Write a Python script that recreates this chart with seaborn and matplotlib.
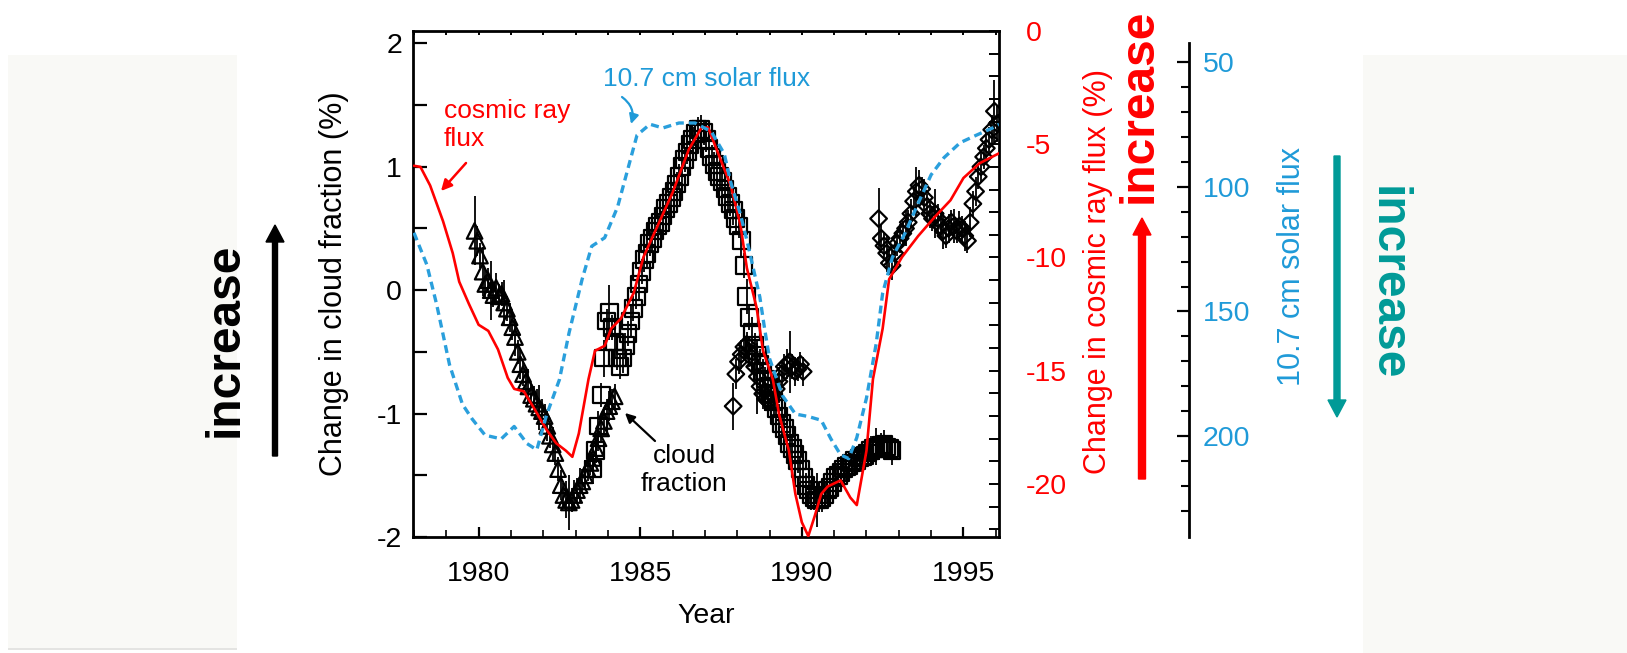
import numpy as np
import matplotlib
matplotlib.use("Agg")
import matplotlib.pyplot as plt
import seaborn as sns
from matplotlib.patches import Rectangle, FancyArrow
from matplotlib.transforms import IdentityTransform
from matplotlib.ticker import MultipleLocator, FixedLocator, StrMethodFormatter

sns.set_theme(style="white")
plt.rcParams["font.family"] = ["Liberation Sans", "DejaVu Sans"]
plt.rcParams["axes.unicode_minus"] = False

# ---------------- data ----------------
# Cosmic ray flux, change in %
cr_year = [1978.0, 1978.2, 1978.5, 1978.9, 1979.2, 1979.4, 1979.7, 1980.0, 1980.3, 1980.6,
           1980.9, 1981.1, 1981.4, 1981.7, 1982.1, 1982.4, 1982.7, 1982.9, 1983.1, 1983.4,
           1983.6, 1983.9, 1984.1, 1984.4, 1984.8, 1985.1, 1985.5, 1986.0, 1986.5, 1986.9,
           1987.1, 1987.5, 1987.8, 1988.1, 1988.3, 1988.6, 1988.8, 1989.1, 1989.3, 1989.6,
           1989.8, 1990.0, 1990.2, 1990.4, 1990.6, 1990.8, 1991.2, 1991.5, 1991.7, 1992.0,
           1992.2, 1992.5, 1992.7, 1993.1, 1993.6, 1994.1, 1994.6, 1995.0, 1995.5, 1996.1]
cr_change = [-5.95, -6.00, -6.82, -8.40, -9.81, -11.07, -12.05, -12.97, -13.24, -14.06,
             -15.31, -15.80, -15.91, -16.62, -17.60, -18.20, -18.53, -18.80, -17.77, -15.37,
             -14.12, -13.90, -13.14, -12.70, -11.56, -9.98, -8.72, -7.14, -5.24, -4.26,
             -4.26, -5.73, -6.82, -8.56, -10.47, -12.21, -14.12, -15.37, -16.95, -18.53,
             -20.44, -21.69, -22.30, -21.41, -20.44, -20.11, -19.84, -20.60, -20.93, -18.53,
             -15.37, -13.14, -10.96, -9.98, -9.05, -8.23, -7.47, -6.49, -5.84, -5.40]

# 10.7 cm solar radio flux
sf_year = [1978.0, 1978.4, 1978.7, 1979.1, 1979.5, 1979.8, 1980.2, 1980.7, 1981.1, 1981.5,
           1981.8, 1982.1, 1982.5, 1982.8, 1983.2, 1983.5, 1983.9, 1984.3, 1984.6, 1984.9,
           1985.3, 1985.7, 1986.2, 1986.7, 1987.2, 1987.6, 1987.8, 1988.1, 1988.3, 1988.5,
           1988.7, 1988.85, 1989.0, 1989.4, 1989.8, 1990.2, 1990.6, 1990.9, 1991.2, 1991.45,
           1991.7, 1992.0, 1992.3, 1992.5, 1992.8, 1993.2, 1993.6, 1994.0, 1994.4, 1994.9,
           1995.4, 1995.9, 1996.1]
sf_flux = [118.4, 131.3, 147.1, 171.4, 187.3, 193.2, 199.7, 201.2, 196.2, 203.1,
           205.6, 191.7, 177.4, 158.5, 137.2, 123.8, 120.4, 108.0, 93.6, 79.2,
           74.8, 76.3, 74.3, 74.3, 77.8, 86.7, 98.1, 111.0, 121.4, 132.8,
           144.2, 157.1, 168.9, 183.8, 191.2, 192.2, 193.7, 201.2, 207.6, 209.1,
           200.7, 184.8, 163.0, 142.7, 128.3, 118.4, 106.5, 95.1, 88.2, 82.2,
           79.2, 76.3, 74.8]

# Monthly cloud fraction change (%), three satellite records.
# Record 1 (triangles) starts Nov 1979
tri_start = 1979 + 10 / 12
tri_cloud = [0.48, 0.40,
             0.28, 0.15, 0.05, 0.08, 0.00, -0.04, 0.02, -0.05, -0.03, -0.10, -0.15, -0.22,
             -0.30, -0.38, -0.50, -0.60, -0.68, -0.74, -0.78, -0.85, -0.88, -0.92, -0.95, -0.98,
             -1.02, -1.10, -1.18, -1.25, -1.32, -1.45, -1.58, -1.66, -1.70, -1.72, -1.70, -1.66,
             -1.62, -1.58, -1.55, -1.50, -1.45, -1.40, -1.36, -1.28, -1.20, -1.12, -1.06, -0.98,
             -0.94, -0.90, -0.86]
tri_err = [0.28, 0.12,
           0.10, 0.20, 0.12, 0.10, 0.24, 0.10, 0.12, 0.10, 0.10, 0.18, 0.10, 0.12,
           0.10, 0.15, 0.10, 0.12, 0.10, 0.10, 0.14, 0.10, 0.10, 0.12, 0.18, 0.10,
           0.10, 0.12, 0.10, 0.14, 0.10, 0.10, 0.12, 0.10, 0.15, 0.22, 0.10, 0.12,
           0.10, 0.14, 0.10, 0.12, 0.10, 0.10, 0.12, 0.10, 0.10, 0.12, 0.10, 0.10,
           0.12, 0.10, 0.10]

# Record 2 (squares) starts Jul 1983
sq_start = 1983 + 6 / 12
sq_cloud = [-1.45, -1.30, -1.10, -0.85, -0.55, -0.25,
            -0.18, -0.30, -0.42, -0.55, -0.62, -0.55, -0.45, -0.35, -0.25, -0.15, -0.05, 0.05,
            0.15, 0.25, 0.30, 0.38, 0.42, 0.48, 0.52, 0.55, 0.60, 0.66, 0.70, 0.75,
            0.80, 0.86, 0.92, 1.00, 1.06, 1.12, 1.18, 1.22, 1.27, 1.30, 1.30, 1.28,
            1.22, 1.15, 1.08, 1.02, 0.96, 0.92, 0.88, 0.82, 0.76, 0.70, 0.65, 0.58,
            0.52, 0.40, 0.20, -0.05, -0.22, -0.34, -0.45, -0.53, -0.60, -0.66, -0.72, -0.78,
            -0.84, -0.90, -0.96, -1.02, -1.08, -1.12, -1.18, -1.24, -1.28, -1.33, -1.38, -1.45,
            -1.52, -1.58, -1.62, -1.66, -1.68, -1.70, -1.70, -1.68, -1.66, -1.62, -1.60, -1.56,
            -1.52, -1.50, -1.48, -1.45, -1.43, -1.42, -1.40, -1.38, -1.38, -1.36, -1.35, -1.34,
            -1.32, -1.30, -1.28, -1.27, -1.28, -1.26, -1.25, -1.27, -1.28, -1.30]
sq_err = [0.12, 0.10, 0.12, 0.10, 0.15, 0.10,
          0.22, 0.10, 0.12, 0.10, 0.10, 0.12, 0.10, 0.10, 0.12, 0.10, 0.10, 0.12,
          0.10, 0.10, 0.12, 0.10, 0.10, 0.12, 0.10, 0.10, 0.10, 0.12, 0.10, 0.10,
          0.12, 0.10, 0.10, 0.12, 0.10, 0.10, 0.12, 0.10, 0.10, 0.10, 0.12, 0.10,
          0.10, 0.12, 0.10, 0.10, 0.12, 0.10, 0.10, 0.12, 0.10, 0.10, 0.12, 0.10,
          0.10, 0.12, 0.10, 0.14, 0.10, 0.12, 0.10, 0.10, 0.12, 0.10, 0.10, 0.12,
          0.10, 0.12, 0.10, 0.10, 0.12, 0.10, 0.10, 0.14, 0.10, 0.12, 0.10, 0.10,
          0.12, 0.10, 0.10, 0.12, 0.10, 0.22, 0.10, 0.12, 0.10, 0.10, 0.12, 0.10,
          0.10, 0.12, 0.10, 0.10, 0.12, 0.10, 0.10, 0.12, 0.10, 0.10, 0.12, 0.10,
          0.10, 0.12, 0.10, 0.15, 0.10, 0.10, 0.12, 0.10, 0.10, 0.12]

# Record 3 (diamonds), first part starts Nov 1987
dm1_start = 1987 + 10 / 12
dm1_cloud = [-0.94, -0.68,
             -0.58, -0.52, -0.46, -0.44, -0.50, -0.55, -0.62, -0.70, -0.78, -0.84, -0.88, -0.90,
             -0.88, -0.85, -0.80, -0.74, -0.68, -0.62, -0.60, -0.58, -0.62, -0.66, -0.64, -0.60,
             -0.66]
dm1_err = [0.19, 0.12,
           0.10, 0.12, 0.10, 0.10, 0.12, 0.10, 0.10, 0.30, 0.10, 0.12, 0.10, 0.10,
           0.12, 0.10, 0.10, 0.12, 0.10, 0.10, 0.12, 0.25, 0.10, 0.12, 0.10, 0.10,
           0.12]

# Record 3 (diamonds), second part starts May 1992
dm2_start = 1992 + 4 / 12
dm2_cloud = [0.58, 0.42, 0.36, 0.30, 0.22, 0.20, 0.30, 0.38,
             0.42, 0.46, 0.50, 0.55, 0.62, 0.72, 0.80, 0.85, 0.82, 0.75, 0.68, 0.62,
             0.58, 0.62, 0.58, 0.52, 0.48, 0.44, 0.50, 0.55, 0.52, 0.48, 0.52, 0.50,
             0.44, 0.40, 0.55, 0.70, 0.80, 0.92, 1.00, 1.08, 1.15, 1.22, 1.30, 1.45,
             1.35]
dm2_err = [0.25, 0.12, 0.10, 0.15, 0.10, 0.12, 0.10, 0.10,
           0.12, 0.10, 0.14, 0.10, 0.12, 0.10, 0.20, 0.12, 0.10, 0.15, 0.10, 0.12,
           0.10, 0.20, 0.12, 0.10, 0.15, 0.10, 0.12, 0.10, 0.14, 0.10, 0.12, 0.10,
           0.12, 0.10, 0.12, 0.10, 0.12, 0.10, 0.12, 0.10, 0.12, 0.10, 0.12, 0.25,
           0.15]

# ---------------- styling ----------------
RED = "#ff0000"
BLUE = "#1f9ad8"
TEAL = "#009a97"
PANEL = "#f9f9f6"

W, H = 1627, 653
fig = plt.figure(figsize=(W / 100, H / 100), dpi=100, facecolor="white")


def fig_frac(x, y):
    """Top-left pixel position -> figure fraction."""
    return x / W, 1 - y / H


def fig_px(x, y):
    """Top-left pixel position -> figure pixels (origin bottom-left)."""
    return x, H - y


# pale side panels
for (x0, y0, x1, y1) in [(8, 55, 237, 650), (1363, 55, 1627, 653)]:
    fig.add_artist(Rectangle((x0, H - y1), x1 - x0, y1 - y0, transform=IdentityTransform(),
                             facecolor=PANEL, edgecolor="none", zorder=-1))
fig.add_artist(Rectangle((8, H - 650), 229, 2, transform=IdentityTransform(),
                         facecolor="#e4e4e2", edgecolor="none", zorder=-1))

# main axes (cloud fraction)
L, T, R, B = 413, 31, 999, 537
ax = fig.add_axes([L / W, 1 - B / H, (R - L) / W, (B - T) / H])
ax.set_facecolor("white")
ax.set_xlim(1977.97, 1996.1)
ax.set_ylim(-2, 2.1)


def monthly(start, n):
    return start + (np.arange(n) + 0.5) / 12


series = [
    (monthly(tri_start, len(tri_cloud)), tri_cloud, tri_err, "^", 125),
    (monthly(sq_start, len(sq_cloud)), sq_cloud, sq_err, "s", 145),
    (monthly(dm1_start, len(dm1_cloud)), dm1_cloud, dm1_err, "D", 72),
    (monthly(dm2_start, len(dm2_cloud)), dm2_cloud, dm2_err, "D", 72),
]
for yrs, vals, errs, mk, size in series:
    ax.errorbar(yrs, vals, yerr=errs, fmt="none", ecolor="black", elinewidth=1.3,
                capsize=0, zorder=2)
    sns.scatterplot(x=yrs, y=vals, marker=mk, s=size, color="black", facecolors="none",
                    edgecolor="black", linewidth=1.6, ax=ax, zorder=3, legend=False)

for side in ["left", "right", "top", "bottom"]:
    ax.spines[side].set_color("black")
    ax.spines[side].set_linewidth(2.0)

ax.xaxis.set_major_locator(MultipleLocator(5))
ax.xaxis.set_minor_locator(MultipleLocator(1))
ax.xaxis.set_major_formatter(StrMethodFormatter("{x:.0f}"))
ax.yaxis.set_major_locator(MultipleLocator(1))
ax.yaxis.set_minor_locator(MultipleLocator(0.5))
ax.yaxis.set_major_formatter(StrMethodFormatter("{x:.0f}"))
ax.tick_params(axis="x", which="major", direction="in", bottom=True, top=False,
               length=7, width=1.6, labelsize=20.5, pad=17, colors="black")
ax.tick_params(axis="x", which="minor", direction="in", bottom=True, top=False,
               length=5, width=1.4)
ax.tick_params(axis="y", which="both", direction="in", left=True, right=False,
               length=10, width=1.6, labelsize=20.5, pad=8, colors="black")

top = ax.secondary_xaxis("top")
top.xaxis.set_major_locator(MultipleLocator(1))
top.tick_params(direction="in", length=3, width=1.4, labeltop=False, colors="black")
top.spines["top"].set_visible(False)

ax.set_xlabel("Year", fontsize=20.5, color="black")
ax.xaxis.label.set_va("center")
ax.xaxis.set_label_coords(0.5, -0.156)
ax.set_ylabel("Change in cloud fraction (%)", fontsize=22, color="black")
ax.yaxis.label.set_va("center")
ax.yaxis.label.set_ha("center")
ax.yaxis.set_label_coords(-0.135, 0.5)

# cosmic ray axis
ax2 = ax.twinx()
sns.lineplot(x=cr_year, y=cr_change, ax=ax2, color=RED, linewidth=1.9,
             sort=False, estimator=None)
ax2.set_ylim(-22.34, 0)
ax2.set_xlim(ax.get_xlim())
for side in ["left", "top", "bottom", "right"]:
    ax2.spines[side].set_visible(False)
ax2.yaxis.set_major_locator(FixedLocator([-20, -15, -10, -5, 0]))
ax2.yaxis.set_minor_locator(FixedLocator(list(range(-22, 0))))
ax2.yaxis.set_major_formatter(StrMethodFormatter("{x:.0f}"))
ax2.tick_params(axis="y", which="both", direction="in", right=True, left=False,
                length=7, width=1.4, color="black", labelcolor=RED,
                labelsize=20.5, pad=19)
ax2.set_ylabel("Change in cosmic ray flux (%)", fontsize=22, color=RED)
ax2.yaxis.label.set_va("center")
ax2.yaxis.label.set_ha("center")
ax2.yaxis.set_label_coords(1.169, 0.524)

# solar flux axis (inverted)
ax3 = ax.twinx()
sns.lineplot(x=sf_year, y=sf_flux, ax=ax3, color="#2a9fdc", linewidth=2.4,
             linestyle=(0, (2.4, 1.5)), sort=False, estimator=None)
ax3.set_ylim(240.6, 37.35)
ax3.set_xlim(ax.get_xlim())
for side in ["left", "top", "bottom"]:
    ax3.spines[side].set_visible(False)
ax3.spines["right"].set_position(("axes", 1.324))
ax3.spines["right"].set_bounds(42.3, 240.6)
ax3.spines["right"].set_color("black")
ax3.spines["right"].set_linewidth(2.0)
ax3.yaxis.set_major_locator(FixedLocator([50, 100, 150, 200]))
ax3.yaxis.set_minor_locator(FixedLocator([v for v in range(60, 240, 10) if v % 50]))
ax3.yaxis.set_major_formatter(StrMethodFormatter("{x:.0f}"))
ax3.tick_params(axis="y", which="major", direction="in", right=True, left=False,
                length=8.5, width=1.6, color="black", labelcolor=BLUE,
                labelsize=20.5, pad=10)
ax3.tick_params(axis="y", which="minor", direction="in", right=True, left=False,
                length=5.5, width=1.5, color="black")
ax3.set_ylabel("10.7 cm solar flux", fontsize=22, color=BLUE)
ax3.yaxis.label.set_va("center")
ax3.yaxis.label.set_ha("center")
ax3.yaxis.set_label_coords(1.500, 0.534)

# in-plot annotations
fig.text(*fig_frac(444, 125), "cosmic ray\nflux", color=RED, fontsize=19,
         ha="left", va="center", linespacing=1.2)
ax.annotate("", xy=fig_px(441, 191), xytext=fig_px(466, 163), xycoords="figure pixels",
            arrowprops=dict(arrowstyle="-|>", color=RED, lw=1.8, mutation_scale=16,
                            shrinkA=0, shrinkB=0))
fig.text(*fig_frac(603, 79), "10.7 cm solar flux", color=BLUE, fontsize=19,
         ha="left", va="center")
ax.annotate("", xy=fig_px(631, 124), xytext=fig_px(622, 97), xycoords="figure pixels",
            arrowprops=dict(arrowstyle="-|>", color=BLUE, lw=1.6, mutation_scale=14,
                            shrinkA=0, shrinkB=0, connectionstyle="arc3,rad=-0.35"))
fig.text(*fig_frac(684, 470), "cloud\nfraction", color="black", fontsize=19,
         ha="center", va="center", multialignment="center", linespacing=1.2)
ax.annotate("", xy=fig_px(625, 413), xytext=fig_px(655, 441), xycoords="figure pixels",
            arrowprops=dict(arrowstyle="-|>", color="black", lw=1.6, mutation_scale=14,
                            shrinkA=0, shrinkB=0))

# direction indicators
fig.text(*fig_frac(225, 340), "increase", rotation=90, color="black", fontsize=34.5,
         fontweight="bold", ha="center", va="center")
fig.text(*fig_frac(1139, 106), "increase", rotation=90, color=RED, fontsize=34.5,
         fontweight="bold", ha="center", va="center")
fig.text(*fig_frac(1387, 283), "increase", rotation=-90, color=TEAL, fontsize=34.5,
         fontweight="bold", ha="center", va="center")

for x, y_tail, y_tip, col, w in [(275, 456, 225, "black", 5),
                                  (1142, 479, 218, RED, 7),
                                  (1337, 156, 417, TEAL, 6)]:
    fig.add_artist(FancyArrow(x, H - y_tail, 0, y_tail - y_tip, width=w, head_width=18,
                              head_length=17, length_includes_head=True,
                              transform=IdentityTransform(), color=col, zorder=5))

fig.savefig("out.png", dpi=100, facecolor="white")
